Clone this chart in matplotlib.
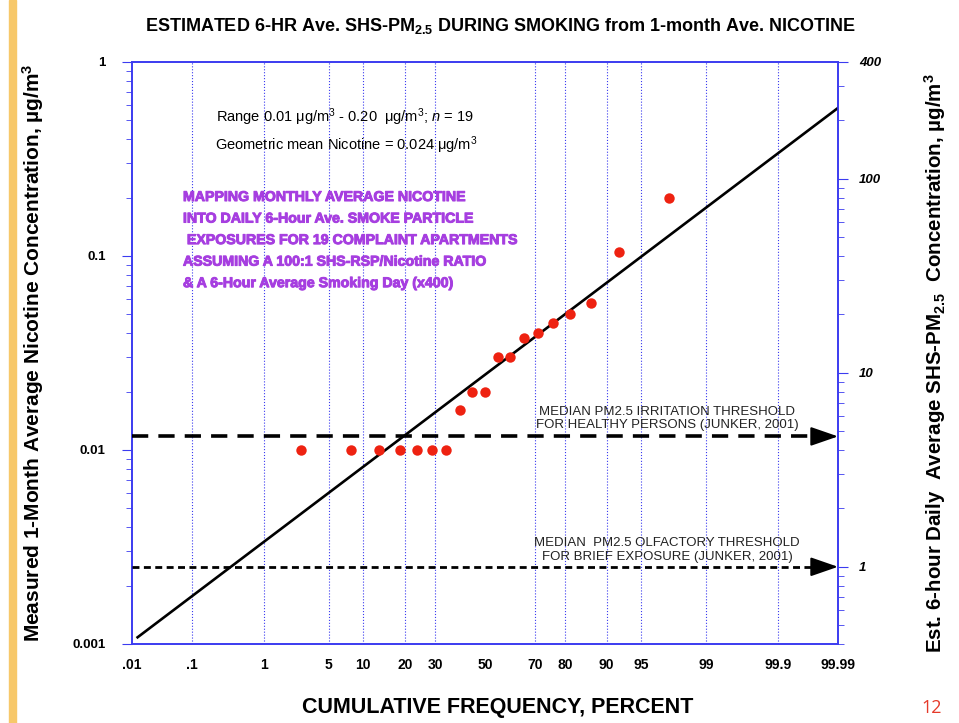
import matplotlib
matplotlib.use("Agg")
import matplotlib.pyplot as plt
import matplotlib.patheffects as pe
import numpy as np
from statistics import NormalDist

# 19 complaint apartments, measured 1-month average nicotine (ug/m3)
nicotine = [0.01, 0.01, 0.01, 0.01, 0.01, 0.01, 0.01, 0.016, 0.02, 0.02,
            0.03, 0.03, 0.038, 0.04, 0.045, 0.05, 0.057, 0.105, 0.20]
ratio = 400  # x400 conversion nicotine -> 6-hour SHS-PM2.5

pct_ticks = [0.01, 0.1, 1, 5, 10, 20, 30, 50, 70, 80, 90, 95, 99, 99.9, 99.99]
pct_labels = ['.01', '.1', '1', '5', '10', '20', '30', '50', '70', '80',
              '90', '95', '99', '99.9', '99.99']
pct_grid = [0.1, 1, 5, 10, 20, 30, 70, 80, 90, 95, 99, 99.9]
line_pct = [0.0126, 99.99]

# thresholds on the PM2.5 (right) axis
thr_irritation = 4.7
thr_olfactory = 1.0

left_ticks = [0.001, 0.01, 0.1, 1]
left_labels = ['0.001', '0.01', '0.1', '1']
right_ticks = [1, 10, 100, 400]
right_labels = ['1', '10', '100', '400']

blue = '#3b3bf0'
purple = '#a63ee0'
narrow = ['Liberation Sans Narrow', 'Liberation Sans', 'DejaVu Sans']

plt.rcParams['font.family'] = ['Liberation Sans', 'DejaVu Sans']
plt.rcParams['mathtext.fontset'] = 'custom'
plt.rcParams['mathtext.sf'] = 'Liberation Sans'
plt.rcParams['mathtext.bf'] = 'Liberation Sans:bold'
plt.rcParams['mathtext.it'] = 'Liberation Sans:italic'
plt.rcParams['mathtext.rm'] = 'Liberation Sans'

nd = NormalDist()
z = lambda p: nd.inv_cdf(p / 100.0)

n = len(nicotine)
vals = np.sort(np.array(nicotine))
pp = [(i - 0.5) / n * 100 for i in range(1, n + 1)]
zp = np.array([z(p) for p in pp])

# log-probit fit
slope, icpt = np.polyfit(zp, np.log10(vals), 1)

fig = plt.figure(figsize=(9.59, 7.23), dpi=100)
ax = fig.add_axes([132 / 959, 1 - 644 / 723, 706 / 959, 582 / 723])

zmin, zmax = z(0.01), z(99.99)
ax.set_xlim(zmin, zmax)
ax.set_yscale('log')
ax.set_ylim(0.001, 1)

for p in pct_grid:
    ax.axvline(z(p), color=blue, ls=':', lw=0.8, zorder=0)

zl = np.linspace(z(line_pct[0]), z(line_pct[1]), 50)
ax.plot(zl, 10 ** (icpt + slope * zl), color='black', lw=1.9, zorder=3)
ax.plot(zp, vals, 'o', color='#ee2211', ms=7.5, mec='none', zorder=4)

ax.set_xticks([z(p) for p in pct_ticks])
ax.set_xticklabels(pct_labels, fontweight='bold', fontsize=10)
ax.tick_params(axis='x', length=0, pad=10)
ax.set_yticks(left_ticks)
ax.set_yticklabels(left_labels, fontweight='bold', fontsize=9.5)
ax.tick_params(axis='y', which='major', direction='out', length=7, color=blue, pad=12)
ax.tick_params(axis='y', which='minor', direction='out', length=4, color=blue)
ax.yaxis.set_minor_formatter(matplotlib.ticker.NullFormatter())
for s in ax.spines.values():
    s.set_color(blue)
    s.set_linewidth(1.2)

ax2 = ax.twinx()
ax2.set_yscale('log')
ax2.set_ylim(0.001 * ratio, 1 * ratio)
ax2.set_yticks(right_ticks)
ax2.set_yticklabels(right_labels, fontweight='bold', fontstyle='italic', fontsize=9.5)
ax2.yaxis.set_minor_formatter(matplotlib.ticker.NullFormatter())
ax2.tick_params(axis='y', which='major', direction='out', length=7, color=blue, pad=8)
ax2.tick_params(axis='y', which='minor', direction='out', length=4, color=blue)
for s in ax2.spines.values():
    s.set_color(blue)
    s.set_linewidth(1.2)

# threshold lines with arrows
ahead = 0.16
ax2.plot([zmin, zmax - ahead], [thr_irritation] * 2, color='black', lw=2.6,
         dashes=(4.5, 2.8), zorder=3)
ax2.plot([zmin, zmax - ahead], [thr_olfactory] * 2, color='black', lw=2.0,
         dashes=(2.5, 1.6), zorder=3)
for v in (thr_irritation, thr_olfactory):
    ax2.annotate('', xy=(zmax, v), xytext=(zmax - ahead - 0.02, v),
                 arrowprops=dict(arrowstyle='-|>,head_length=1.3,head_width=0.45',
                                 color='black', lw=1.5, mutation_scale=13,
                                 shrinkA=0, shrinkB=0), annotation_clip=False)

ax.text(0.301, 0.9055, r'Range 0.01 $\mathsf{\mu}$g/m$^{\mathsf{3}}$ - 0.20  $\mathsf{\mu}$g/m$^{\mathsf{3}}$; $n$ = 19',
        transform=ax.transAxes, ha='center', va='center', fontsize=10.5)
ax.text(0.303, 0.857, r'Geometric mean Nicotine = 0.024 $\mathsf{\mu}$g/m$^{\mathsf{3}}$',
        transform=ax.transAxes, ha='center', va='center', fontsize=10.5)

purple_lines = ['MAPPING MONTHLY AVERAGE NICOTINE',
                'INTO DAILY 6-Hour Ave. SMOKE PARTICLE',
                ' EXPOSURES FOR 19 COMPLAINT APARTMENTS',
                'ASSUMING A 100:1 SHS-RSP/Nicotine RATIO',
                '& A 6-Hour Average Smoking Day (x400)']
for k, t in enumerate(purple_lines):
    ax.text(0.0722, 0.768 - k * 0.037, t, transform=ax.transAxes, ha='left', va='center',
            color=purple, fontsize=10.2, fontweight='bold', family=narrow,
            path_effects=[pe.withStroke(linewidth=0.7, foreground=purple)])

thr_txt = [('MEDIAN PM2.5 IRRITATION THRESHOLD', 0.3986),
           ('FOR HEALTHY PERSONS (JUNKER, 2001)', 0.376),
           ('MEDIAN  PM2.5 OLFACTORY THRESHOLD', 0.1735),
           ('FOR BRIEF EXPOSURE (JUNKER, 2001)', 0.1495)]
for t, yy in thr_txt:
    ax.text(0.758, yy, t, transform=ax.transAxes, ha='center', va='center',
            fontsize=9.5, color='#222222')

fig.text(500 / 959, 1 - 26 / 723,
         r'ESTIMATED 6-HR Ave. SHS-PM$_{\mathbf{2.5}}$ DURING SMOKING from 1-month Ave. NICOTINE',
         ha='center', va='center', fontsize=13, fontweight='bold', family=narrow)
fig.text(498 / 959, 1 - 708 / 723, 'CUMULATIVE FREQUENCY, PERCENT',
         ha='center', va='center', fontsize=15.5, fontweight='bold', family=narrow)
fig.text(33 / 959, 1 - 353 / 723,
         r'Measured 1-Month Average Nicotine Concentration, µg/m$^{\mathbf{3}}$',
         ha='center', va='center', rotation=90, fontsize=15, fontweight='bold', family=narrow)
fig.text(935 / 959, 1 - 363 / 723,
         r'Est. 6-hour Daily  Average SHS-PM$_{\mathbf{2.5}}$  Concentration, µg/m$^{\mathbf{3}}$',
         ha='center', va='center', rotation=90, fontsize=14.8, fontweight='bold', family=narrow)
fig.text(932 / 959, 1 - 708 / 723, '12', ha='center', va='center', fontsize=13,
         color='#e53a2a', family=['Open Sans', 'DejaVu Sans'])

# slide accent bar
fig.patches.append(matplotlib.patches.Rectangle((9 / 959, 0), 7 / 959, 1,
                                                transform=fig.transFigure,
                                                color='#f7c86a', zorder=0))

fig.savefig('out.png', dpi=100)
